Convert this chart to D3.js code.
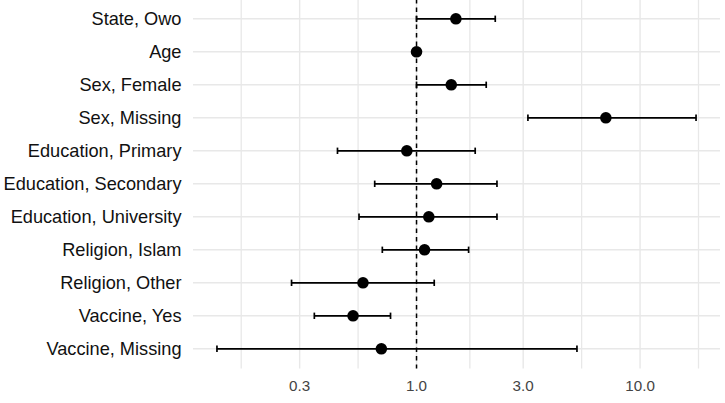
<!DOCTYPE html>
<html>
<head>
<meta charset="utf-8">
<script src="https://cdn.jsdelivr.net/npm/d3@7"></script>
<style>
  html, body { margin: 0; padding: 0; background: #ffffff; }
  svg { display: block; }
</style>
</head>
<body>
<svg id="chart" width="725" height="403"></svg>
<script>
// ---- data ----
const categories = [
  "State, Owo", "Age", "Sex, Female", "Sex, Missing",
  "Education, Primary", "Education, Secondary", "Education, University",
  "Religion, Islam", "Religion, Other", "Vaccine, Yes", "Vaccine, Missing"
];
const estimates = [1.50, 1.00, 1.43, 7.03, 0.905, 1.23, 1.135, 1.086, 0.576, 0.520, 0.696];
const lowerCI   = [1.00, 0.99, 1.00, 3.15, 0.443, 0.650, 0.553, 0.703, 0.276, 0.349, 0.128];
const upperCI   = [2.25, 1.01, 2.05, 17.8, 1.83, 2.29, 2.29, 1.71, 1.20, 0.765, 5.22];
const xTicks = [0.3, 1.0, 3.0, 10.0];
const xTickLabels = ["0.3", "1.0", "3.0", "10.0"];

// ---- layout ----
const panel = { left: 193, right: 720, top: -1, bottom: 368.6 };
const svg = d3.select("#chart");

// log-scale domain with 5% expansion (ggplot style)
const lo = Math.log10(d3.min(lowerCI)), hi = Math.log10(d3.max(upperCI));
const pad = (hi - lo) * 0.05;
const x = d3.scaleLog()
  .domain([Math.pow(10, lo - pad), Math.pow(10, hi + pad)])
  .range([panel.left, panel.right]);

const y = d3.scalePoint()
  .domain(categories)
  .range([panel.top, panel.bottom])
  .padding(0.6);

// minor breaks: midpoints (in log space) between major breaks, extended
const logT = xTicks.map(Math.log10);
const allL = [logT[0] - (logT[1]-logT[0]), ...logT, logT[logT.length-1] + (logT[logT.length-1]-logT[logT.length-2])];
const minor = [];
for (let i = 0; i < allL.length - 1; i++) {
  const v = Math.pow(10, (allL[i] + allL[i+1]) / 2);
  if (x(v) >= panel.left && x(v) <= panel.right) minor.push(v);
}

const gridColor = "#e8e8e8";
const grid = svg.append("g");
grid.selectAll("line.minor").data(minor).enter().append("line")
  .attr("x1", d => x(d)).attr("x2", d => x(d))
  .attr("y1", panel.top).attr("y2", panel.bottom)
  .attr("stroke", gridColor).attr("stroke-width", 1.3);
grid.selectAll("line.majorx").data(xTicks).enter().append("line")
  .attr("x1", d => x(d)).attr("x2", d => x(d))
  .attr("y1", panel.top).attr("y2", panel.bottom)
  .attr("stroke", gridColor).attr("stroke-width", 1.4);
grid.selectAll("line.majory").data(categories).enter().append("line")
  .attr("x1", panel.left).attr("x2", panel.right)
  .attr("y1", d => y(d)).attr("y2", d => y(d))
  .attr("stroke", gridColor).attr("stroke-width", 1.4);

// reference line at 1
svg.append("line")
  .attr("x1", x(1)).attr("x2", x(1))
  .attr("y1", panel.top).attr("y2", panel.bottom)
  .attr("stroke", "#000").attr("stroke-width", 1.5)
  .attr("stroke-dasharray", "4.5,4");

// error bars
const rows = categories.map((c, i) => ({ c, est: estimates[i], lo: lowerCI[i], hi: upperCI[i] }));
const eb = svg.append("g");
const capH = 3.2;
rows.forEach(r => {
  eb.append("line")
    .attr("x1", x(r.lo)).attr("x2", x(r.hi))
    .attr("y1", y(r.c)).attr("y2", y(r.c))
    .attr("stroke", "#000").attr("stroke-width", 1.7);
  [r.lo, r.hi].forEach(v => {
    eb.append("line")
      .attr("x1", x(v)).attr("x2", x(v))
      .attr("y1", y(r.c) - capH).attr("y2", y(r.c) + capH)
      .attr("stroke", "#000").attr("stroke-width", 1.7);
  });
});

// points
svg.append("g").selectAll("circle").data(rows).enter().append("circle")
  .attr("cx", d => x(d.est)).attr("cy", d => y(d.c))
  .attr("r", 5.8).attr("fill", "#000");

// y axis labels
svg.append("g").selectAll("text").data(categories).enter().append("text")
  .attr("x", 181.5).attr("y", d => y(d))
  .attr("dy", "0.35em")
  .attr("text-anchor", "end")
  .attr("font-family", "Liberation Sans, Arial, sans-serif")
  .attr("font-size", 18.2)
  .attr("fill", "#111")
  .text(d => d);

// x axis tick labels
svg.append("g").selectAll("text").data(xTicks).enter().append("text")
  .attr("x", d => x(d)).attr("y", 390.5)
  .attr("text-anchor", "middle")
  .attr("font-family", "Liberation Sans, Arial, sans-serif")
  .attr("font-size", 15.2)
  .attr("fill", "#444")
  .text((d, i) => xTickLabels[i]);
</script>
</body>
</html>
